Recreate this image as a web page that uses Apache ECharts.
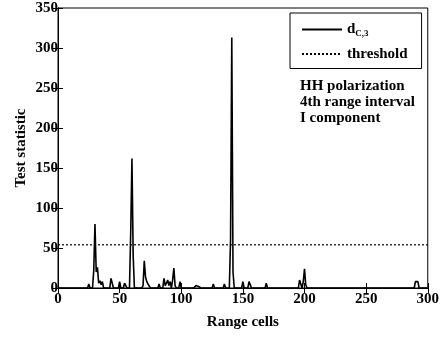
<!DOCTYPE html>
<html>
<head>
<meta charset="utf-8">
<script src="https://cdn.jsdelivr.net/npm/echarts@6/dist/echarts.min.js"></script>
<style>
  html, body { margin: 0; padding: 0; background: #fff; }
  #main { width: 442px; height: 339px; }
</style>
</head>
<body>
<div id="main"></div>
<script>
// range cell positions and test statistic
var cells = [0, 24, 25, 26, 28, 29, 30, 31, 32, 33, 34, 35, 36, 37, 42, 43, 44, 45, 49, 50, 51, 53, 54, 55, 56,
    58, 59, 60, 61, 62, 68, 69, 70, 71, 72, 73, 74, 75, 81, 82, 83, 85, 86, 87, 88, 89, 90, 91, 92, 93, 94, 95, 96,
    98, 99, 100, 110, 112, 113, 114, 116, 125, 126, 127, 134, 135, 136, 139, 140, 141, 142, 143, 149, 150, 151,
    154, 155, 156, 157, 168, 169, 170, 177, 178, 179, 195, 196, 197, 198, 199, 200, 201, 202, 210, 211, 212,
    222, 223, 224, 289, 290, 291, 292, 293, 300];
var dG3 = [0, 0, 5, 0, 0, 22, 80, 20, 26, 6, 9, 4, 8, 0, 0, 12, 10, 0, 0, 8, 0, 0, 6, 3, 0,
    0, 70, 162, 40, 0, 0, 3, 34, 14, 8, 5, 3, 0, 0, 5, 0, 0, 12, 3, 6, 10, 3, 8, 0, 10, 25, 3, 0,
    0, 8, 0, 0, 3, 3, 2, 0, 0, 5, 0, 0, 5, 0, 0, 60, 313, 20, 0, 0, 8, 0,
    0, 8, 7, 0, 0, 6, 0, 0, 2, 0, 0, 10, 12, 0, 8, 24, 4, 0, 0, 2, 0,
    0, 1, 0, 0, 8, 9, 8, 0, 0];
var thresholdX = [0, 300];
var thresholdY = [54, 54];
var noteLines = ['HH polarization', '4th range interval', 'I component'];

var font = 'Liberation Serif';

var chart = echarts.init(document.getElementById('main'));

var lineData = [];
for (var i = 0; i < cells.length; i++) {
    lineData.push([cells[i], dG3[i]]);
}
var thrData = [];
for (var j = 0; j < thresholdX.length; j++) {
    thrData.push([thresholdX[j], thresholdY[j]]);
}

var labelStyle = { color: '#000', fontFamily: font, fontWeight: 'bold', fontSize: 15 };

chart.setOption({
    animation: false,
    backgroundColor: '#fff',
    grid: { left: 58, right: 11, top: 8, bottom: 51, show: true, borderColor: '#000', borderWidth: 1 },
    legend: {
        orient: 'vertical',
        left: 290,
        top: 13,
        padding: [9, 14, 7, 11],
        itemGap: 8,
        itemWidth: 40,
        itemHeight: 13,
        borderColor: '#000',
        borderWidth: 1,
        itemStyle: { opacity: 0 },
        textStyle: {
            color: '#000', fontFamily: font, fontWeight: 'bold', fontSize: 15,
            rich: {
                d: { color: '#000', fontFamily: font, fontWeight: 'bold', fontSize: 15 },
                sub: { color: '#000', fontFamily: font, fontWeight: 'bold', fontSize: 9, padding: [9, 0, 0, 0] }
            }
        },
        formatter: function (name) {
            if (name === 'dG3') return '{d|d}{sub|C,3}';
            return name;
        },
        data: ['dG3', 'threshold']
    },
    graphic: [{
        type: 'text',
        left: 300,
        top: 78,
        style: {
            text: noteLines.join('\n'),
            fill: '#000',
            font: 'bold 15px "Liberation Serif"',
            lineHeight: 16
        }
    }],
    xAxis: [{
        type: 'value', min: 0, max: 300, interval: 50,
        name: 'Range cells', nameLocation: 'middle', nameGap: 27,
        nameTextStyle: { color: '#000', fontFamily: font, fontWeight: 'bold', fontSize: 15 },
        axisLine: { show: true, lineStyle: { color: '#000' } },
        axisTick: { inside: true, length: 5, lineStyle: { color: '#000' } },
        axisLabel: Object.assign({ margin: 4 }, labelStyle),
        splitLine: { show: false }
    }, {
        type: 'value', min: 0, max: 300, interval: 50, position: 'top',
        axisLine: { show: true, lineStyle: { color: '#000' } },
        axisTick: { inside: true, length: 5, lineStyle: { color: '#000' } },
        axisLabel: { show: false },
        splitLine: { show: false }
    }],
    yAxis: [{
        type: 'value', min: 0, max: 350, interval: 50,
        name: 'Test statistic', nameLocation: 'middle', nameGap: 29, nameMoveOverlap: false,
        nameTextStyle: { color: '#000', fontFamily: font, fontWeight: 'bold', fontSize: 15 },
        axisLine: { show: true, lineStyle: { color: '#000' } },
        axisTick: { inside: true, length: 5, lineStyle: { color: '#000' } },
        axisLabel: Object.assign({ margin: 0 }, labelStyle),
        splitLine: { show: false }
    }, {
        type: 'value', min: 0, max: 350, interval: 50, position: 'right',
        axisLine: { show: true, lineStyle: { color: '#000' } },
        axisTick: { inside: true, length: 5, lineStyle: { color: '#000' } },
        axisLabel: { show: false },
        splitLine: { show: false }
    }],
    series: [{
        name: 'dG3',
        type: 'line',
        symbol: 'none',
        data: lineData,
        lineStyle: { color: '#000', width: 1.6 },
        itemStyle: { color: '#000' }
    }, {
        name: 'threshold',
        type: 'line',
        symbol: 'none',
        data: thrData,
        lineStyle: { color: '#000', width: 1.2, type: [2, 2] },
        itemStyle: { color: '#000' }
    }]
});
</script>
</body>
</html>
